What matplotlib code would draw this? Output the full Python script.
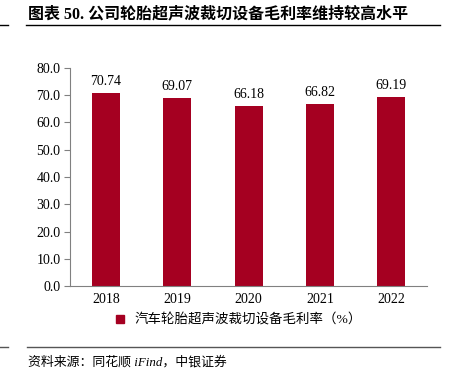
import matplotlib.pyplot as plt
from matplotlib.lines import Line2D

# data
years = ['2018', '2019', '2020', '2021', '2022']
margin = [70.74, 69.07, 66.18, 66.82, 69.19]
yticks = [0, 10, 20, 30, 40, 50, 60, 70, 80]

fam = ['Liberation Serif', 'Noto Sans CJK SC']
plt.rcParams['font.family'] = fam
bar_color = '#A50021'

fig = plt.figure(figsize=(4.5, 3.73), dpi=100)
ax = fig.add_axes([0.156, 0.233, 0.793, 0.585])

x = range(len(years))
bars = ax.bar(x, margin, width=0.39, color=bar_color)
for xi, v in zip(x, margin):
    ax.text(xi, v + 1.8, f'{v:.2f}', ha='center', va='bottom', fontsize=10)

ax.set_ylim(0, 80)
ax.set_xlim(-0.5, len(years) - 0.5)
ax.set_yticks(yticks)
ax.set_yticklabels([f'{t:.1f}' for t in yticks], fontsize=10)
ax.set_xticks(list(x))
ax.set_xticklabels(years, fontsize=10)
ax.tick_params(axis='x', length=0, pad=5)
ax.tick_params(axis='y', length=4, color='#808080', pad=3)
for s in ['top', 'right']:
    ax.spines[s].set_visible(False)
ax.spines['left'].set_color('#808080')
ax.spines['bottom'].set_color('#808080')

handle = Line2D([], [], marker='s', color=bar_color, linestyle='none', markersize=5.5)
fig.legend([handle], ['汽车轮胎超声波裁切设备毛利率（%）'], loc='center',
           bbox_to_anchor=(0.52, 0.142), frameon=False, handletextpad=0.1,
           prop={'family': fam, 'size': 9.7})

# title and source
fig.text(0.062, 0.962, '图表 50. 公司轮胎超声波裁切设备毛利率维持较高水平',
         fontsize=11.5, fontweight='bold', va='center', family=fam)
fig.add_artist(Line2D([0.057, 0.978], [0.933, 0.933], color='black', lw=1))
fig.add_artist(Line2D([0.0, 0.018], [0.933, 0.933], color='black', lw=1))
fig.add_artist(Line2D([0.06, 0.978], [0.07, 0.07], color='#555555', lw=1))
fig.add_artist(Line2D([0.0, 0.018], [0.07, 0.07], color='#555555', lw=1))
fig.text(0.062, 0.03, '资料来源：同花顺 iFind，中银证券', fontsize=9.3,
         style='italic', va='center', family=fam)

fig.savefig('out.png', dpi=100)
